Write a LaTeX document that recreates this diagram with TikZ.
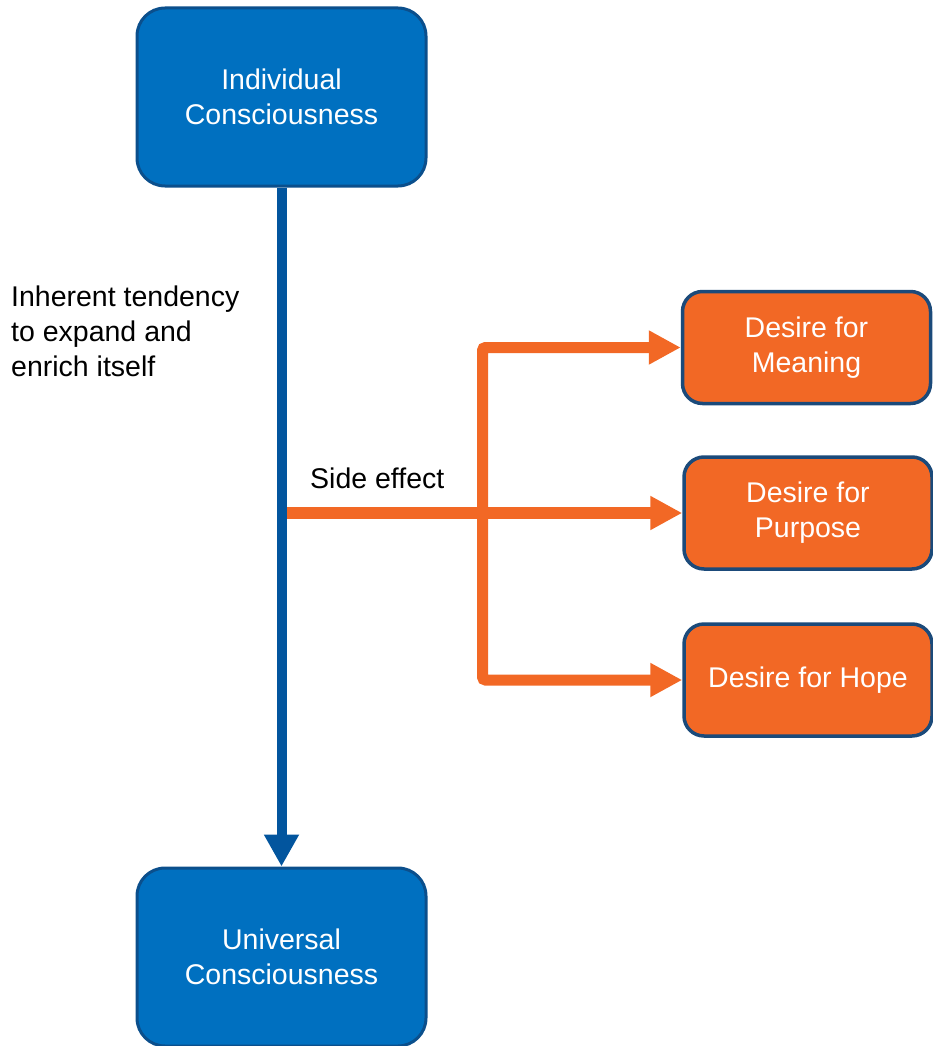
\documentclass[tikz,border=0pt]{standalone}
\usepackage{fontspec}
\setmainfont{Liberation Sans}
\usetikzlibrary{arrows.meta}
\definecolor{boxblue}{HTML}{0070C0}
\definecolor{boxedge}{HTML}{0B4F8C}
\definecolor{arrblue}{HTML}{02559E}
\definecolor{orng}{HTML}{F26825}
\definecolor{orngedge}{HTML}{1B4A7A}
\tikzset{
  txt/.style={font=\fontsize{28.5}{35}\selectfont},
  bluebox/.style={txt, draw=boxedge, line width=3pt, fill=boxblue, text=white,
    rounded corners=28pt, minimum width=289pt, minimum height=178pt, align=center, inner sep=0pt},
  orbox/.style={txt, draw=orngedge, line width=3.5pt, fill=orng, text=white,
    rounded corners=20pt, minimum width=248pt, minimum height=112pt, align=center, inner sep=0pt},
  blueline/.style={draw=arrblue, line width=10pt, -{Triangle[width=33pt,length=32pt]}},
  orline/.style={draw=orng, line width=11pt, rounded corners=3pt}
}
\begin{document}
\begin{tikzpicture}[x=1pt,y=-1pt]
\useasboundingbox (0,0) rectangle (933,1046);
\node[bluebox] (top) at (281.5,97) {Individual\\Consciousness};
\node[bluebox] (bot) at (281.5,957) {Universal\\Consciousness};
\node[orbox] (mean) at (806.5,347.5) {Desire for\\Meaning};
\node[orbox] (purp) at (808,513) {Desire for\\Purpose};
\node[orbox] (hope) at (808,680) {Desire for Hope};
\coordinate (js) at (281,513);
\coordinate (jx) at (482.5,513);
\draw[orline, line width=12pt, -{Triangle[width=32pt,length=32pt]}] (js) -- (purp.west);
\draw[orline, {Triangle[width=32pt,length=32pt]}-{Triangle[width=32pt,length=32pt]}] (hope.west) -| (jx) |- (mean.west);
\draw[blueline] (top.south) -- (bot.north);
\node[txt, anchor=base west, align=left, inner sep=0pt] (lbl) at (11,376) {Inherent tendency\\to expand and\\enrich itself};
\node[txt, anchor=base west, inner sep=0pt] (side) at (310,488) {Side effect};
\end{tikzpicture}
\end{document}
